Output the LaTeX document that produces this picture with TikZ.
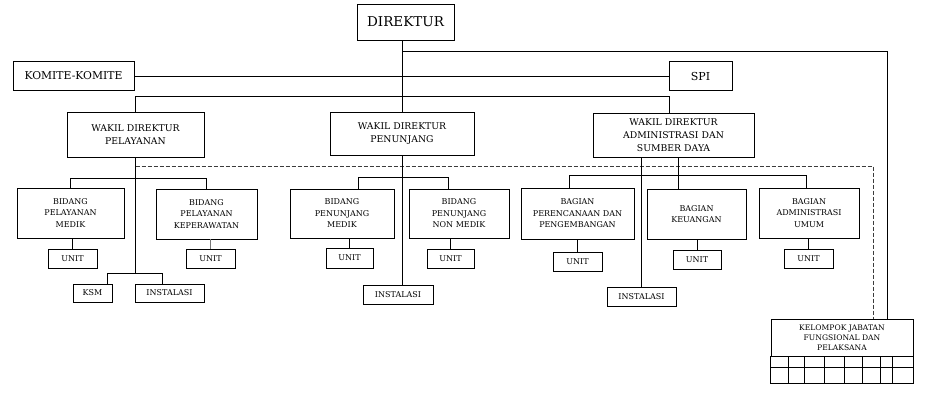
\documentclass[tikz,border=0pt]{standalone}
\usepackage{fontspec}
\setmainfont{DejaVu Serif}

\begin{document}
\begin{tikzpicture}[x=1pt,y=-1pt,line width=0.8pt,
  orgbox/.style={draw,inner sep=0pt,align=center,font=\fontsize{8}{11.5}\selectfont},
  wakbox/.style={draw,inner sep=0pt,align=center,font=\fontsize{9.3}{13}\selectfont},
  unitbox/.style={draw,inner sep=0pt,align=center,font=\fontsize{8}{9}\selectfont},
  dashline/.style={dash pattern=on 4pt off 2pt,color=dashgray}]
% ------------------------------------------------ colors
\definecolor{dashgray}{RGB}{60,60,60}
\definecolor{linkgray}{RGB}{120,120,120}
\useasboundingbox (0,0) rectangle (928,404);

% ------------------------------------------------ top level
\node[draw,inner sep=0pt,minimum width=97,minimum height=36,font=\fontsize{13.5}{14}\selectfont]
  (dir) at (405.5,22) {DIREKTUR};
\node[draw,inner sep=0pt,minimum width=121,minimum height=29,font=\fontsize{10.8}{12}\selectfont]
  (kom) at (73.5,76) {KOMITE-KOMITE};
\node[draw,inner sep=0pt,minimum width=63,minimum height=29,font=\fontsize{11}{12}\selectfont]
  (spi) at (700.5,76) {SPI};

\node[wakbox,minimum width=137,minimum height=45] (wpl)  at (135.5,134.5) {WAKIL DIREKTUR\\PELAYANAN};
\node[wakbox,minimum width=144,minimum height=43] (wpn)  at (402,133.5) {WAKIL DIREKTUR\\PENUNJANG};
\node[wakbox,minimum width=161,minimum height=44] (wadm) at (673.5,135) {WAKIL DIREKTUR\\ADMINISTRASI DAN\\SUMBER DAYA};

% ------------------------------------------------ bidang / bagian
\node[orgbox,minimum width=107,minimum height=50] (bpm)  at (70.5,213)   {BIDANG\\PELAYANAN\\MEDIK};
\node[orgbox,minimum width=101,minimum height=50] (bpk)  at (206.5,214)  {BIDANG\\PELAYANAN\\KEPERAWATAN};
\node[orgbox,minimum width=104,minimum height=49] (bpnm) at (342,213.5)  {BIDANG\\PENUNJANG\\MEDIK};
\node[orgbox,minimum width=100,minimum height=49] (bnm)  at (459,213.5)  {BIDANG\\PENUNJANG\\NON MEDIK};
\node[orgbox,minimum width=113,minimum height=51] (bpp)  at (577.5,213.5) {BAGIAN\\PERENCANAAN DAN\\PENGEMBANGAN};
\node[orgbox,minimum width=99,minimum height=50]  (bk)   at (696.5,214)  {BAGIAN\\KEUANGAN};
\node[orgbox,minimum width=100,minimum height=50] (bau)  at (809,213)    {BAGIAN\\ADMINISTRASI\\UMUM};

% ------------------------------------------------ unit, ksm, instalasi
\node[unitbox,minimum width=49,minimum height=19] (u1) at (72.5,258.5)  {UNIT};
\node[unitbox,minimum width=49,minimum height=19] (u2) at (210.5,258.5) {UNIT};
\node[unitbox,minimum width=47,minimum height=20] (u3) at (349.5,258)   {UNIT};
\node[unitbox,minimum width=47,minimum height=19] (u4) at (450.5,258.5) {UNIT};
\node[unitbox,minimum width=49,minimum height=19] (u5) at (577.5,261.5) {UNIT};
\node[unitbox,minimum width=48,minimum height=19] (u6) at (697,259.5)   {UNIT};
\node[unitbox,minimum width=49,minimum height=19] (u7) at (808.5,258.5) {UNIT};

\node[unitbox,minimum width=39,minimum height=18] (ksm)  at (92.5,293)  {KSM};
\node[unitbox,minimum width=69,minimum height=18] (ins1) at (169.5,293) {INSTALASI};
\node[unitbox,minimum width=70,minimum height=19] (ins2) at (398,294.5) {INSTALASI};
\node[unitbox,minimum width=69,minimum height=19] (ins3) at (641.5,296.5) {INSTALASI};

% ------------------------------------------------ kelompok jabatan
\node[draw,inner sep=0pt,align=center,minimum width=142,minimum height=37,font=\fontsize{7.6}{10}\selectfont]
  (kel) at (842,337.5) {KELOMPOK JABATAN\\FUNGSIONAL DAN\\PELAKSANA};
\draw (kel.south west) rectangle (913,383);
\draw (771,367) -- (913,367);
\foreach \cx in {788,804,824,844,862,880,892}
  \draw (\cx,356) -- (\cx,383);

% ------------------------------------------------ bus points
\coordinate (kr)  at (887,51);
\coordinate (sb)  at (669,96);
\coordinate (dr)  at (873,166);
\coordinate (pl)  at (107,273);
\coordinate (pr)  at (162,273);
\coordinate (nl)  at (358,177);
\coordinate (nr)  at (448,177);
\coordinate (al)  at (569,175);
\coordinate (ar)  at (806,175);
\coordinate (bkt) at (678,189);

% ------------------------------------------------ connectors
\draw (wpn.north |- dir.south) -- (wpn.north);
\draw (wpn.north |- kr) -- (kr) -- (kr |- kel.north);
\draw (kom.east) -- (kom.east -| spi.west);
\draw (wpl.north) |- (sb) -- (sb |- wadm.north);
\draw[dashline] (wpl.south |- dr) -- (dr) -- (dr |- kel.north);

% pelayanan
\draw (wpl.south) -- (wpl.south |- pl);
\draw (pl) -- (pr);
\draw (pl) -- (pl |- ksm.north);
\draw (pr) -- (pr |- ins1.north);
\draw (bpm.north) -- ++(0,-9) -| (bpk.north);
\draw (u1.north |- bpm.south) -- (u1.north);
\draw[linkgray] (u2.north |- bpk.south) -- (u2.north);

% penunjang
\draw (wpn.south) -- (wpn.south |- ins2.north);
\draw (nl |- bpnm.north) -- (nl) -- (nr) -- (nr |- bnm.north);
\draw (u3.north |- bpnm.south) -- (u3.north);
\draw (u4.north |- bnm.south) -- (u4.north);

% administrasi dan sumber daya
\draw (ins3.north |- wadm.south) -- (ins3.north);
\draw (bkt |- wadm.south) -- (bkt);
\draw (al |- bpp.north) -- (al) -- (ar) -- (ar |- bau.north);
\draw (u5.north |- bpp.south) -- (u5.north);
\draw (u6.north |- bk.south) -- (u6.north);
\draw (u7.north |- bau.south) -- (u7.north);

\end{tikzpicture}
\end{document}
